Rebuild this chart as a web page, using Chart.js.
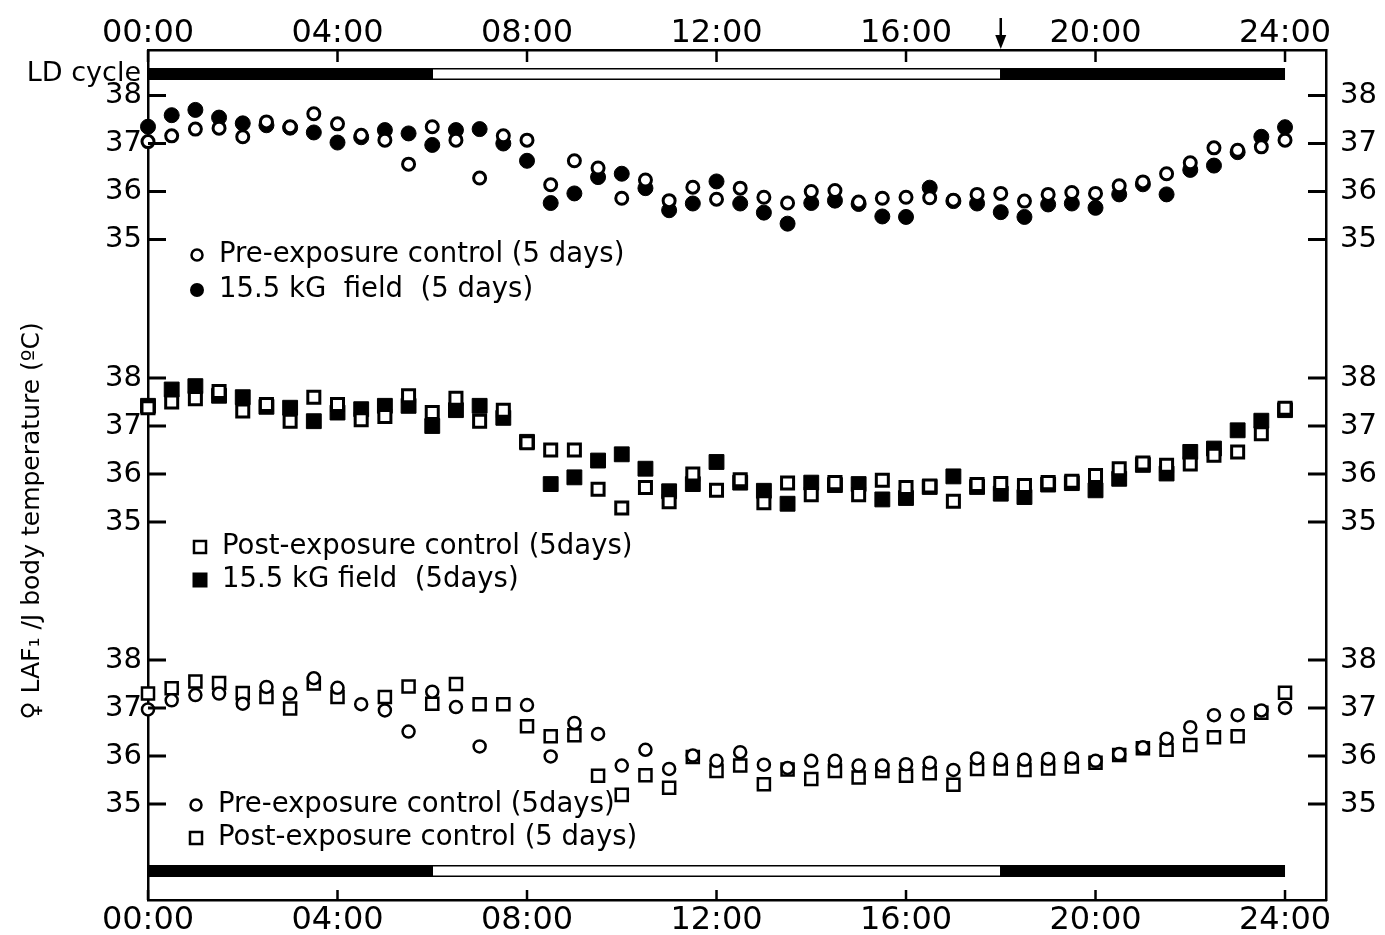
<!DOCTYPE html>
<html>
<head>
<meta charset="utf-8">
<script src="https://cdn.jsdelivr.net/npm/chart.js@4.4.0/dist/chart.umd.min.js"></script>
<style>
  html, body { margin: 0; background: #fff; }
</style>
</head>
<body>
<canvas id="chart" width="1385" height="935"></canvas>
<script>
// sampling times (hours), every 30 min
const hours = [0,0.5,1,1.5,2,2.5,3,3.5,4,4.5,5,5.5,6,6.5,7,7.5,8,8.5,9,9.5,10,10.5,11,11.5,12,12.5,13,13.5,14,14.5,15,15.5,16,16.5,17,17.5,18,18.5,19,19.5,20,20.5,21,21.5,22,22.5,23,23.5,24];

// top panel
const preControl = [37.04,37.16,37.30,37.32,37.14,37.45,37.35,37.62,37.41,37.17,37.07,36.57,37.35,37.07,36.28,37.16,37.07,36.14,36.64,36.49,35.86,36.24,35.81,36.09,35.84,36.07,35.88,35.76,36.00,36.02,35.78,35.86,35.88,35.87,35.82,35.94,35.96,35.80,35.94,35.98,35.96,36.12,36.20,36.37,36.60,36.91,36.86,36.93,37.07];
const fieldA = [37.35,37.59,37.70,37.54,37.42,37.38,37.33,37.23,37.02,37.13,37.28,37.21,36.97,37.28,37.30,37.00,36.64,35.76,35.96,36.30,36.37,36.07,35.61,35.75,36.21,35.75,35.56,35.33,35.76,35.81,35.74,35.48,35.47,36.08,35.80,35.75,35.57,35.47,35.73,35.75,35.66,35.94,36.15,35.94,36.45,36.54,36.82,37.14,37.34];

// middle panel
const postControl = [37.38,37.50,37.57,37.72,37.31,37.45,37.10,37.60,37.45,37.13,37.20,37.63,37.28,37.58,37.10,37.33,36.65,36.50,36.50,35.68,35.29,35.72,35.42,36.00,35.66,35.88,35.40,35.81,35.57,35.82,35.57,35.87,35.72,35.75,35.43,35.78,35.80,35.76,35.82,35.85,35.97,36.11,36.23,36.18,36.21,36.39,36.46,36.84,37.37];
const fieldB = [37.42,37.76,37.83,37.63,37.60,37.40,37.38,37.10,37.28,37.35,37.42,37.42,37.00,37.33,37.42,37.17,36.67,35.79,35.93,36.28,36.41,36.11,35.64,35.79,36.25,35.82,35.65,35.38,35.82,35.77,35.79,35.47,35.50,35.73,35.95,35.73,35.59,35.52,35.78,35.81,35.66,35.90,36.19,36.01,36.46,36.53,36.91,37.11,37.33];

// bottom panel
const preControlC = [36.97,37.16,37.27,37.30,37.09,37.44,37.30,37.62,37.42,37.08,36.95,36.51,37.34,37.02,36.20,null,37.06,35.99,36.69,36.46,35.80,36.13,35.73,36.01,35.90,36.08,35.82,35.75,35.90,35.90,35.80,35.80,35.83,35.86,35.71,35.95,35.92,35.92,35.94,35.95,35.90,36.04,36.18,36.36,36.60,36.85,36.85,36.95,37.00];
const postControlC = [37.30,37.41,37.55,37.52,37.31,37.23,36.99,37.51,37.23,null,37.23,37.45,37.09,37.50,37.08,37.08,36.62,36.41,36.43,35.59,35.19,35.60,35.34,35.98,35.69,35.80,35.41,35.72,35.52,35.69,35.55,35.69,35.59,35.64,35.40,35.73,35.74,35.71,35.74,35.78,35.86,36.02,36.16,36.13,36.23,36.39,36.41,36.90,37.32];

// axes
const tickHours = [0,4,8,12,16,20,24];
const timeLabels = ['00:00','04:00','08:00','12:00','16:00','20:00','24:00'];
const tempTicks = [35,36,37,38];

// light/dark cycle (hours)
const ldDark = [[0,6],[18,24]];
const ldLight = [[6,18]];
const arrowHour = 18;

// each panel is moved down by this much on the shared y axis
const SHIFT = [0, 5.885, 11.76];
const Y_MAX = 38.948, Y_MIN = 21.24, X_MAX = 24.865;

const FONT = 'DejaVu Sans';
Chart.defaults.font.family = FONT;
Chart.defaults.color = '#000';

const pts = (vals, shift) => hours.map((h, i) => ({ x: h, y: vals[i] == null ? null : vals[i] - shift }));

const openCircle = { pointStyle: 'circle', pointRadius: 6, pointBorderWidth: 3, backgroundColor: '#fff', borderColor: '#000' };
const fullCircle = { pointStyle: 'circle', pointRadius: 7.5, pointBorderWidth: 1, backgroundColor: '#000', borderColor: '#000' };
const openSquare = { pointStyle: 'rect', pointRadius: 8.5, pointBorderWidth: 3, backgroundColor: '#fff', borderColor: '#000' };
const fullSquare = { pointStyle: 'rect', pointRadius: 10.5, pointBorderWidth: 1, backgroundColor: '#000', borderColor: '#000' };

// first dataset is drawn on top
const datasets = [
  { label: 'Pre-exposure control', data: pts(preControl, SHIFT[0]), ...openCircle },
  { label: '15.5 kG field', data: pts(fieldA, SHIFT[0]), ...fullCircle },
  { label: 'Post-exposure control', data: pts(postControl, SHIFT[1]), ...openSquare },
  { label: '15.5 kG field', data: pts(fieldB, SHIFT[1]), ...fullSquare },
  { label: 'Pre-exposure control', data: pts(preControlC, SHIFT[2]), ...openCircle, pointBorderWidth: 2.5 },
  { label: 'Post-exposure control', data: pts(postControlC, SHIFT[2]), ...openSquare, pointBorderWidth: 2.5 }
].map(d => ({ ...d, showLine: false, clip: false }));

const tempLabel = v => {
  for (const s of SHIFT) {
    const t = Math.round((v + s) * 1000) / 1000;
    if (Number.isInteger(t)) return String(t);
  }
  return '';
};
const tempTickValues = SHIFT.flatMap(sh => tempTicks.map(t => t - sh)).sort((a, b) => a - b);
const yTicks = s => { s.ticks = tempTickValues.map(v => ({ value: v })); };
const xTicks = s => { s.ticks = tickHours.map(v => ({ value: v })); };
const border = { display: true, color: '#000', width: 2.5 };

const xAxis = (pos, h, pad) => ({
  type: 'linear', position: pos, min: 0, max: X_MAX,
  afterBuildTicks: xTicks,
  afterFit: s => { s.height = h; },
  grid: { display: false, drawTicks: false },
  border,
  ticks: { callback: v => timeLabels[tickHours.indexOf(v)], font: { size: 32 }, padding: pad, maxRotation: 0, minRotation: 0, autoSkip: false }
});
const yAxis = (pos, w, pad) => ({
  type: 'linear', position: pos, min: Y_MIN, max: Y_MAX,
  afterBuildTicks: yTicks,
  afterFit: s => { s.width = w; },
  grid: { display: false, drawTicks: false },
  border,
  ticks: { callback: tempLabel, font: { size: 29 }, padding: pad, autoSkip: false }
});

const legend = [
  { shape: 'oc', x: 197, y: 255, text: 'Pre-exposure control (5 days)' },
  { shape: 'fc', x: 197, y: 290, text: '15.5 kG  field  (5 days)' },
  { shape: 'os', x: 200, y: 547, text: 'Post-exposure control (5days)' },
  { shape: 'fs', x: 200, y: 580, text: '15.5 kG field  (5days)' },
  { shape: 'oc', x: 196, y: 805, text: 'Pre-exposure control (5days)' },
  { shape: 'os', x: 196, y: 838, text: 'Post-exposure control (5 days)' }
];

const decor = {
  id: 'decor',
  afterDraw(chart) {
    const ctx = chart.ctx;
    const area = chart.chartArea;
    const x = chart.scales.x, y = chart.scales.y;
    ctx.save();
    ctx.fillStyle = '#000';
    ctx.strokeStyle = '#000';

    // tick marks pointing into the plot
    tempTickValues.forEach(v => {
      const py = y.getPixelForValue(v);
      ctx.fillRect(area.left, py - 1.5, 18, 3);
      ctx.fillRect(area.right - 18, py - 1.5, 18, 3);
    });
    tickHours.forEach(h => {
      const px = x.getPixelForValue(h);
      ctx.fillRect(px - 1.25, area.top, 2.5, 12);
      ctx.fillRect(px - 1.25, area.bottom - 10, 2.5, 10);
    });

    // LD cycle bars
    const ldBar = (yTop, hgt) => {
      ldDark.forEach(([a, b]) => {
        const x1 = x.getPixelForValue(a), x2 = x.getPixelForValue(b);
        ctx.fillRect(x1, yTop, x2 - x1, hgt);
      });
      ctx.lineWidth = 1.5;
      ldLight.forEach(([a, b]) => {
        const x1 = x.getPixelForValue(a), x2 = x.getPixelForValue(b);
        ctx.strokeRect(x1, yTop + 0.75, x2 - x1, hgt - 1.5);
      });
    };
    ldBar(68, 12);
    ldBar(865, 12);

    // lights-off arrow
    const ax = x.getPixelForValue(arrowHour);
    ctx.fillRect(ax - 1.25, 18, 2.5, 22);
    ctx.beginPath(); ctx.moveTo(ax - 5.5, 35); ctx.lineTo(ax + 5.5, 35); ctx.lineTo(ax, 49); ctx.closePath(); ctx.fill();

    // texts
    ctx.font = '27px "' + FONT + '"';
    ctx.textAlign = 'right'; ctx.textBaseline = 'middle';
    ctx.fillText('LD cycle', 141, 74);

    ctx.textAlign = 'left';
    ctx.font = '27.5px "' + FONT + '"';
    legend.forEach(e => {
      if (e.shape === 'oc' || e.shape === 'fc') {
        ctx.beginPath(); ctx.arc(e.x, e.y, e.shape === 'oc' ? 5.5 : 7, 0, Math.PI * 2);
        if (e.shape === 'fc') ctx.fill(); else { ctx.lineWidth = 2.5; ctx.stroke(); }
      } else {
        if (e.shape === 'fs') ctx.fillRect(e.x - 7.5, e.y - 7.5, 15, 15);
        else { ctx.lineWidth = 2.5; ctx.strokeRect(e.x - 6, e.y - 6, 12, 12); }
      }
      ctx.fillText(e.text, e.x + 22, e.y);
    });

    // y title
    ctx.translate(32, 521);
    ctx.rotate(-Math.PI / 2);
    ctx.textAlign = 'center';
    ctx.font = '25px "' + FONT + '"';
    ctx.fillText('\u2640 LAF\u2081 /J body temperature (\u00BAC)', 0, 0);
    ctx.restore();
  }
};

new Chart(document.getElementById('chart'), {
  type: 'scatter',
  data: { datasets },
  options: {
    responsive: false,
    devicePixelRatio: 1,
    animation: false,
    events: [],
    layout: { padding: 0 },
    plugins: { legend: { display: false }, tooltip: { enabled: false } },
    scales: {
      x: xAxis('bottom', 35, 1),
      xTop: xAxis('top', 50, -3),
      y: yAxis('left', 148, 6),
      yR: yAxis('right', 59, 14)
    }
  },
  plugins: [decor]
});
</script>
</body>
</html>
